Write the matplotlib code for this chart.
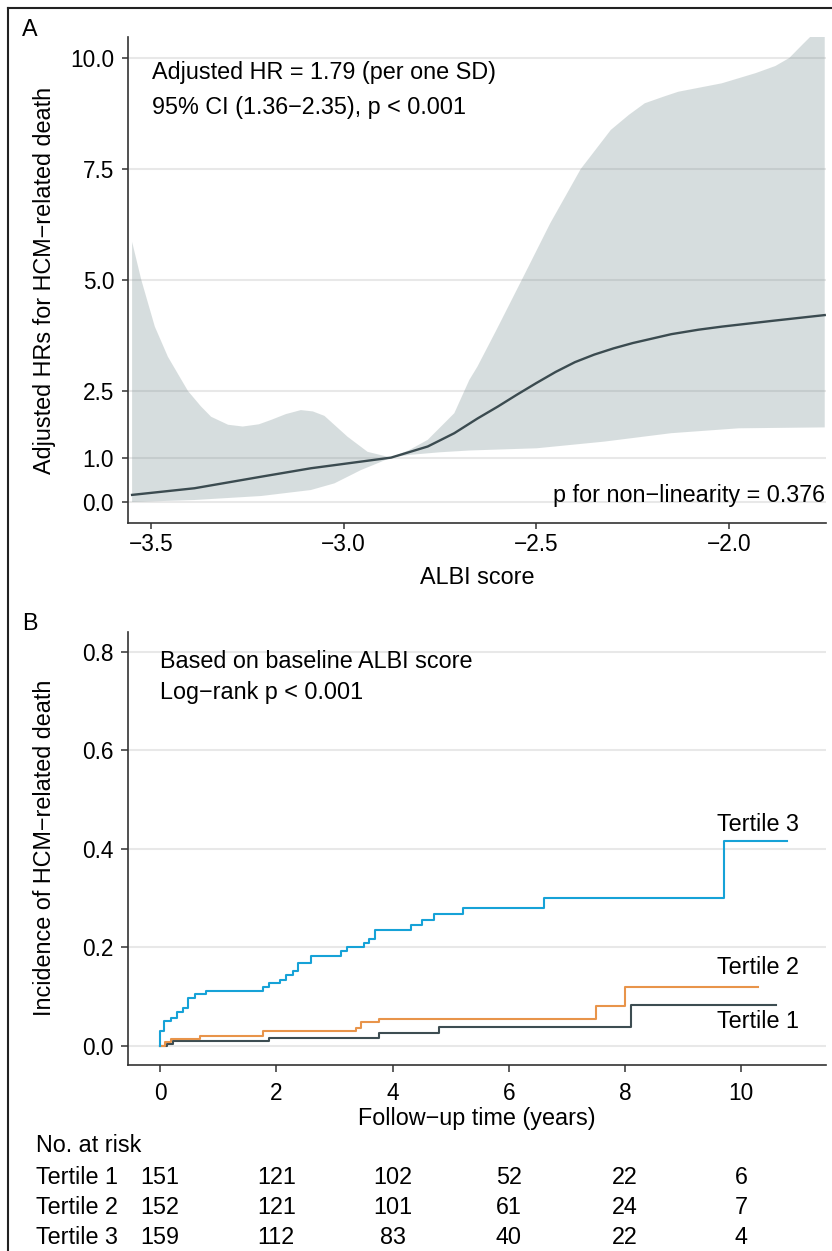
import numpy as np
import matplotlib
matplotlib.use("Agg")
import matplotlib.pyplot as plt
from matplotlib.lines import Line2D
from matplotlib.transforms import blended_transform_factory

plt.rcParams['font.family'] = ['Liberation Sans', 'DejaVu Sans']
plt.rcParams['font.size'] = 16.8

# ---- panel A: restricted cubic spline HR ----
hr_x = [-3.549, -3.387, -3.214, -3.085, -2.955, -2.877, -2.782, -2.713, -2.653,
        -2.60, -2.55, -2.50, -2.45, -2.40, -2.35, -2.30, -2.25, -2.20, -2.15,
        -2.08, -2.019, -1.888, -1.752]
hr_y = [0.16, 0.31, 0.57, 0.76, 0.91, 1.0, 1.25, 1.55, 1.88,
        2.15, 2.42, 2.68, 2.93, 3.15, 3.32, 3.46, 3.58, 3.68, 3.78,
        3.88, 3.95, 4.08, 4.21]

upper_x = [-3.549, -3.525, -3.49, -3.456, -3.404, -3.37, -3.344, -3.30, -3.262, -3.22,
           -3.188, -3.15, -3.111, -3.08, -3.05, -2.99, -2.938, -2.877, -2.83,
           -2.782, -2.713, -2.674, -2.653, -2.604, -2.534, -2.464, -2.385,
           -2.307, -2.26, -2.219, -2.17, -2.132, -2.019, -1.931, -1.88, -1.844,
           -1.81, -1.752]
upper_y = [5.86, 5.0, 3.95, 3.27, 2.5, 2.15, 1.92, 1.74, 1.70, 1.75,
           1.85, 1.98, 2.07, 2.04, 1.94, 1.47, 1.13, 1.0, 1.17,
           1.40, 2.0, 2.75, 3.05, 3.87, 5.07, 6.28, 7.5,
           8.38, 8.72, 8.98, 9.13, 9.24, 9.43, 9.66, 9.82, 10.0,
           10.3, 10.8]

lower_x = [-3.549, -3.387, -3.214, -3.085, -3.024, -2.955, -2.91, -2.877, -2.83,
           -2.75, -2.674, -2.499, -2.324, -2.150, -1.975, -1.752]
lower_y = [0.0, 0.045, 0.135, 0.27, 0.42, 0.72, 0.88, 1.0, 1.06,
           1.12, 1.16, 1.21, 1.36, 1.55, 1.66, 1.68]

a_yticks = [0.0, 1.0, 2.5, 5.0, 7.5, 10.0]
a_xticks = [-3.5, -3.0, -2.5, -2.0]

# ---- panel B: cumulative incidence ----
t1_time = [0, 0.12, 0.22, 1.88, 3.77, 4.80, 8.10, 10.59]
t1_inc = [0.0, 0.004, 0.0095, 0.0156, 0.026, 0.038, 0.083, 0.083]

t2_time = [0, 0.09, 0.19, 0.69, 1.78, 3.37, 3.46, 3.76, 7.50, 8.00, 10.29]
t2_inc = [0.0, 0.0075, 0.0136, 0.0197, 0.030, 0.037, 0.048, 0.055, 0.082, 0.120, 0.120]

t3_time = [0, 0, 0.072, 0.19, 0.29, 0.39, 0.49, 0.61, 0.79, 1.78, 1.88, 2.07, 2.16,
           2.28, 2.38, 2.60, 3.12, 3.21, 3.51, 3.60, 3.70, 4.31, 4.51, 4.71, 5.21,
           6.60, 9.71, 10.79]
t3_inc = [0.0, 0.031, 0.051, 0.057, 0.070, 0.078, 0.098, 0.106, 0.112, 0.119, 0.127,
          0.135, 0.144, 0.152, 0.168, 0.183, 0.193, 0.201, 0.210, 0.218, 0.236, 0.246,
          0.256, 0.267, 0.280, 0.300, 0.417, 0.417]

b_yticks = [0.0, 0.2, 0.4, 0.6, 0.8]
b_xticks = [0, 2, 4, 6, 8, 10]

risk_groups = ['Tertile 1', 'Tertile 2', 'Tertile 3']
risk_t1 = [151, 121, 102, 52, 22, 6]
risk_t2 = [152, 121, 101, 61, 24, 7]
risk_t3 = [159, 112, 83, 40, 22, 4]

W, H = 832, 1251
fig = plt.figure(figsize=(W / 100, H / 100), dpi=100)


def fx(px):
    return px / W


def fy(py):
    return 1 - py / H


def style_axes(ax, xpad, ypad, xlen, ylen):
    for s in ['top', 'right']:
        ax.spines[s].set_visible(False)
    for s in ['left', 'bottom']:
        ax.spines[s].set_color('#333333')
        ax.spines[s].set_linewidth(1.2)
    ax.tick_params(axis='x', length=xlen, width=1.1, color='#333333', pad=xpad, labelsize=16.3)
    ax.tick_params(axis='y', length=ylen, width=1.1, color='#333333', pad=ypad, labelsize=16.3)
    ax.grid(axis='y', color='#e8e8e8', linewidth=1.5, zorder=0)
    ax.set_axisbelow(True)


# ---------- A ----------
axA = fig.add_axes([fx(128), fy(523), fx(698), 486 / H])
poly_x = np.concatenate([upper_x, lower_x[::-1]])
poly_y = np.concatenate([upper_y, lower_y[::-1]])
axA.fill(poly_x, poly_y, color='#5f7a7d', alpha=0.25, linewidth=0, zorder=2)
axA.plot(hr_x, hr_y, color='#3b4b50', linewidth=1.7, zorder=3)
axA.set_xlim(-3.5596, -1.7487)
axA.set_ylim(-0.473, 10.473)
axA.set_yticks(a_yticks)
axA.set_yticklabels(['0.0', '1.0', '2.5', '5.0', '7.5', '10.0'])
axA.set_xticks(a_xticks)
style_axes(axA, 3, 6, 4, 4)
axA.text(0.0344, 0.926, 'Adjusted HR = 1.79 (per one SD)', transform=axA.transAxes,
         ha='left', va='center')
axA.text(0.0344, 0.854, '95% CI (1.36\u22122.35), p < 0.001', transform=axA.transAxes,
         ha='left', va='center')
axA.text(0.9986, 0.0576, 'p for non\u2212linearity = 0.376', transform=axA.transAxes,
         ha='right', va='center')

fig.text(fx(45), fy(280), 'Adjusted HRs for HCM\u2212related death', rotation=90,
         ha='center', va='center')
fig.text(fx(477), fy(577), 'ALBI score', ha='center', va='center')
fig.text(fx(22), fy(29), 'A', ha='left', va='center')

# ---------- B ----------
axB = fig.add_axes([fx(128), fy(1065), fx(698), 433 / H])
axB.step(t1_time, t1_inc, where='post', color='#3d4d52', linewidth=1.5, zorder=3)
axB.step(t2_time, t2_inc, where='post', color='#e8944a', linewidth=1.5, zorder=3)
axB.step(t3_time, t3_inc, where='post', color='#16a2d7', linewidth=1.5, zorder=3)
axB.set_xlim(-0.55, 11.457)
axB.set_ylim(-0.0386, 0.8406)
axB.set_yticks(b_yticks)
axB.set_yticklabels(['0.0', '0.2', '0.4', '0.6', '0.8'])
axB.set_xticks(b_xticks)
style_axes(axB, 7, 5.5, 5, 5)
axB.text(9.58, 0.449, 'Tertile 3', ha='left', va='center')
axB.text(9.58, 0.159, 'Tertile 2', ha='left', va='center')
axB.text(9.58, 0.049, 'Tertile 1', ha='left', va='center')
axB.text(0.0458, 0.933, 'Based on baseline ALBI score', transform=axB.transAxes,
         ha='left', va='center')
axB.text(0.0458, 0.861, 'Log\u2212rank p < 0.001', transform=axB.transAxes,
         ha='left', va='center')

fig.text(fx(45), fy(848), 'Incidence of HCM\u2212related death', rotation=90,
         ha='center', va='center')
fig.text(fx(477), fy(1119), 'Follow\u2212up time (years)', ha='center', va='center')
fig.text(fx(22), fy(624), 'B', ha='left', va='center')

# risk table
fig.text(fx(36), fy(1146), 'No. at risk', ha='left', va='center')
trans = blended_transform_factory(axB.transData, fig.transFigure)
for name, counts, py in zip(risk_groups, [risk_t1, risk_t2, risk_t3], [1178, 1208, 1237]):
    fig.text(fx(36), fy(py), name, ha='left', va='center')
    for t, n in zip(b_xticks, counts):
        fig.text(t, fy(py), str(n), ha='center', va='center', transform=trans)

# outer frame (top and left edges)
fig.add_artist(Line2D([fx(8), 1.0], [fy(8), fy(8)], color='#222222', linewidth=1.5))
fig.add_artist(Line2D([fx(8), fx(8)], [fy(8), 0.0], color='#222222', linewidth=1.5))

fig.savefig('out.png', dpi=100)
